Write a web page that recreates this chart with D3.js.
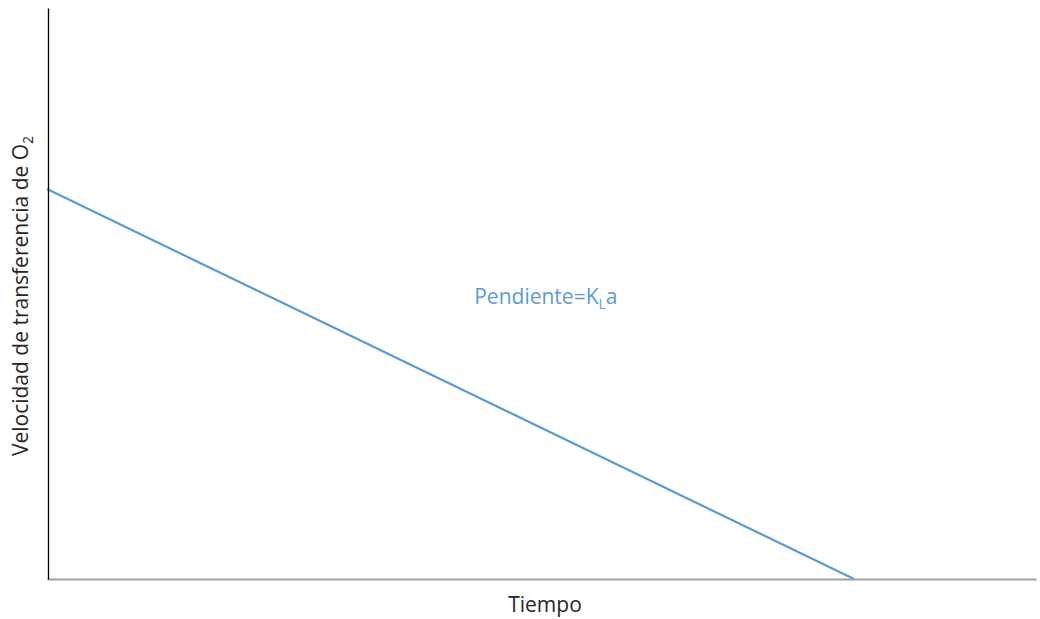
<!DOCTYPE html>
<html><head><meta charset="utf-8">
<script src="https://cdn.jsdelivr.net/npm/d3@7"></script>
<style>body{margin:0;background:#fff}svg{display:block}</style>
</head><body>
<svg id="c" width="1040" height="619"></svg>
<script>
const timeValues = [0, 8.16];
const rateValues = [6.83, 0];
const xDomain = [0, 10];
const yDomain = [0, 10];
const annotation = {text: "Pendiente=K", sub: "L", tail: "a", x: 4.32, y: 4.81};

const svg = d3.select("#c");
const m = {l: 47, r: 4, t: 8, b: 40};
const W = 1040, H = 619;
const x = d3.scaleLinear().domain(xDomain).range([m.l, W - m.r]);
const y = d3.scaleLinear().domain(yDomain).range([H - m.b, m.t]);
const font = "'Open Sans', sans-serif";

// line
svg.append("path")
  .datum(timeValues.map((t, i) => [t, rateValues[i]]))
  .attr("d", d3.line().x(d => x(d[0])).y(d => y(d[1])))
  .attr("fill", "none").attr("stroke", "#5b9bd5").attr("stroke-width", 2.2);

// x axis
const xa = svg.append("g").attr("transform", `translate(0,${y(0)})`)
  .call(d3.axisBottom(x).tickValues([]).tickSizeOuter(0));
xa.select(".domain").attr("stroke", "#a0a0a0").attr("stroke-width", 2);

// y axis
const ya = svg.append("g").attr("transform", `translate(${x(0) + 1},0)`)
  .call(d3.axisLeft(y).tickValues([]).tickSizeOuter(0));
ya.select(".domain").attr("stroke", "#000").attr("stroke-width", 1.3);

// annotation
const t = svg.append("text").attr("x", x(annotation.x)).attr("y", y(annotation.y))
  .attr("font-family", font).attr("font-size", 21).attr("fill", "#5b9bd5");
t.append("tspan").text(annotation.text);
t.append("tspan").attr("dy", 5).attr("font-size", 14).text(annotation.sub);
t.append("tspan").attr("dy", -5).text(annotation.tail);

// x label
svg.append("text").attr("x", 545).attr("y", 612).attr("text-anchor", "middle")
  .attr("font-family", font).attr("font-size", 21).attr("fill", "#262626").text("Tiempo");

// y label
const yl = svg.append("text").attr("transform", "translate(28,296) rotate(-90)")
  .attr("text-anchor", "middle").attr("font-family", font).attr("font-size", 21).attr("fill", "#262626");
yl.append("tspan").text("Velocidad de transferencia de O");
yl.append("tspan").attr("dy", 5).attr("font-size", 14).text("2");
</script>
</body></html>
